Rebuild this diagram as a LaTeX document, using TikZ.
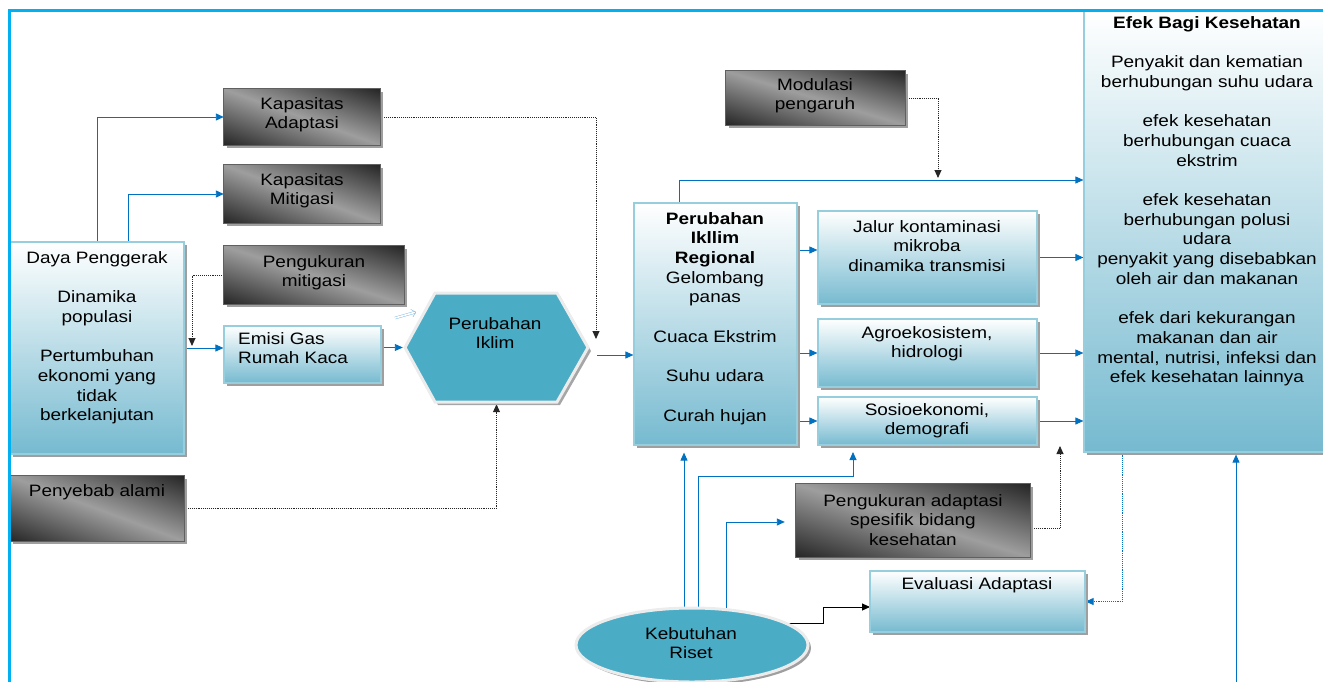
\documentclass[tikz,border=0pt]{standalone}
\usepackage{fontspec}
\setmainfont{Liberation Sans}[FakeStretch=1.15]
\usetikzlibrary{arrows.meta,shadows,shapes.geometric}
\pgfdeclarelayer{back}
\pgfsetlayers{back,main}

\definecolor{frameblue}{RGB}{0,176,240}
\definecolor{linkblue}{RGB}{0,112,192}
\definecolor{boxlo}{RGB}{118,186,208}
\definecolor{boxedge}{RGB}{150,206,222}
\definecolor{tealfill}{RGB}{75,172,198}
\definecolor{darkgr}{RGB}{38,38,38}
\definecolor{lightgr}{RGB}{158,158,158}

% box from corner (x1,y1) to corner (x2,y2)
\newcommand\mkbox[6]{\node[#2, inner sep=0pt, minimum width={#5-#3}, minimum height={#6-#4}] (#1) at ({(#3+#5)/2},{(#4+#6)/2}) {};}

% grey box whose gradient runs across its diagonal: dark corners at
% bottom left and top right, light band from top left to bottom right
\newcommand\mkdark[5]{%
  \mkbox{#1}{boxshadow, fill=lightgr}{#2}{#3}{#4}{#5}
  \pgfmathsetmacro\dw{#4-#2}%
  \pgfmathsetmacro\dh{#5-#3}%
  \pgfmathsetmacro\dL{veclen(\dw,\dh)}%
  \pgfmathsetmacro\dE{\dw/\dL*\dh}%
  \pgfmathsetmacro\dA{atan2(\dw,\dh)}%
  \begin{scope}
    \clip (#1.south west) rectangle (#1.north east);
    \shade[transform canvas={rotate around={\dA:(#1.center)}}, left color=darkgr, right color=darkgr, middle color=lightgr]
      ([xshift={-\dE pt}, yshift={-0.5*\dL pt}]#1.center) rectangle ([xshift={\dE pt}, yshift={0.5*\dL pt}]#1.center);
  \end{scope}
  \draw[draw=gray!75!black, line width=1pt] (#1.south west) rectangle (#1.north east);
}

\begin{document}
\begin{tikzpicture}[x=1pt,y=-1pt,
  font=\fontsize{16.5}{19.7}\selectfont,
  boxshadow/.style={general shadow={fill=gray!75, shadow xshift=3pt, shadow yshift=-3pt}},
  lightbox/.style={boxshadow, shade, top color=white, bottom color=boxlo, draw=boxedge, line width=1.2pt},
  txt/.style={align=center, inner sep=0pt, anchor=north},
  tip/.style={-{Triangle[length=8pt,width=7pt]}},
  link/.style={tip, draw=linkblue, line width=0.9pt},
  dots/.style={tip, draw=black!85, densely dotted, line width=0.9pt},
  bdots/.style={tip, draw=linkblue, densely dotted, line width=0.9pt},
  blk/.style={tip, draw=black, line width=0.9pt},
]
\useasboundingbox (0,0) rectangle (1323,681);
\clip (0,0) rectangle (1323,681);

% ---- boxes ----
\mkdark{kapad}{224}{89}{380}{145}
\mkdark{kapmit}{224}{165}{380}{223}
\mkbox{daya}{lightbox}{10}{242}{184}{454}
\mkdark{pmit}{224}{246}{404}{304}
\mkbox{emisi}{lightbox}{224}{326}{381}{383}
\mkdark{alami}{10}{476}{184}{541}
\mkbox{regional}{lightbox}{634}{203}{797}{445}
\mkbox{jalur}{lightbox}{818}{211}{1037}{304}
\mkbox{agro}{lightbox}{818}{319}{1037}{387}
\mkbox{sosio}{lightbox}{818}{397}{1037}{445}
\mkdark{modul}{726}{71}{905}{125}
\mkbox{efek}{lightbox}{1084}{11}{1335}{452}
\mkdark{padapt}{796}{484}{1030}{557}
\mkbox{evalu}{lightbox}{870}{571}{1085}{632}

% climate change hexagon
\fill[gray!70] (408,351) -- (438,296) -- (560,296) -- (591,351) -- (560,405) -- (438,405) -- cycle;
\draw[draw=gray!15, line width=3pt, fill=tealfill] (405,347.5) -- (435,293) -- (557,293) -- (588,347.5) -- (557,402) -- (435,402) -- cycle;
\node[inner sep=0pt, minimum width=183, minimum height=109] (hex) at (496.5,347.5) {};

% research needs ellipse
\node[ellipse, boxshadow, fill=tealfill, draw=gray!15, line width=3pt, minimum width=232, minimum height=74] (riset) at (692,645) {};

% ---- texts ----
\node[txt] (kapad-t) at (302,97) {Kapasitas\\Adaptasi};
\node[txt] (kapmit-t) at (302,173) {Kapasitas\\Mitigasi};
\node[txt] (daya-t) at (97,251) {Daya Penggerak\\[19.7pt]Dinamika\\populasi\\[19.7pt]Pertumbuhan\\ekonomi yang\\tidak\\berkelanjutan};
\node[txt] (pmit-t) at (314,255) {Pengukuran\\mitigasi};
\node[txt, anchor=north west, align=left] (emisi-t) at (238,332) {Emisi Gas\\Rumah Kaca};
\node[txt] (alami-t) at (97,484) {Penyebab alami};
\node[txt] (hex-t) at (495,317) {Perubahan\\Iklim};
\node[txt] (regional-t) at (715,212) {\textbf{Perubahan}\\\textbf{Ikllim}\\\textbf{Regional}\\Gelombang\\panas\\[19.7pt]Cuaca Ekstrim\\[19.7pt]Suhu udara\\[19.7pt]Curah hujan};
\node[txt] (modul-t) at (815,78) {Modulasi\\pengaruh};
\node[txt] (jalur-t) at (927,220) {Jalur kontaminasi\\mikroba\\dinamika transmisi};
\node[txt] (agro-t) at (927,326) {Agroekosistem,\\hidrologi};
\node[txt] (sosio-t) at (927,403) {Sosioekonomi,\\demografi};
\node[txt] (padapt-t) at (913,494) {Pengukuran adaptasi\\spesifik bidang\\kesehatan};
\node[txt] (evalu-t) at (977,577) {Evaluasi Adaptasi};
\node[txt] (riset-t) at (691,627) {Kebutuhan\\Riset};
\node[txt] (efek-t) at (1207,16) {\textbf{Efek Bagi Kesehatan}\\[19.7pt]Penyakit dan kematian\\berhubungan suhu udara\\[19.7pt]efek kesehatan\\berhubungan cuaca\\ekstrim\\[19.7pt]efek kesehatan\\berhubungan polusi\\udara\\penyakit yang disebabkan\\oleh air dan makanan\\[19.7pt]efek dari kekurangan\\makanan dan air\\mental, nutrisi, infeksi dan\\efek kesehatan lainnya};

% ---- helper points for connector routes ----
\coordinate (pmtip) at (192,346);
\coordinate (katip) at (596,339);
\coordinate (fa1) at (395,318);
\coordinate (fa2) at (416,312);
\coordinate (hexout) at (588,355);
\coordinate (rowA) at (0,180);
\coordinate (modtip) at (938,178);
\coordinate (r1) at (0,250);
\coordinate (r18) at (0,528);
\coordinate (sotip) at (1060,446);
\coordinate (v19) at (684,0);
\coordinate (k20) at (698,476);
\coordinate (sstip) at (853,452);
\coordinate (k21) at (726,522);
\coordinate (k22) at (823,623);
\coordinate (evtip) at (870,607);
\coordinate (b24) at (1236,700);

% ---- connectors ----
\begin{pgfonlayer}{back}
\draw[link] ([xshift=88pt]daya.north west) |- (kapad.west);
\draw[link] ([xshift=119pt]daya.north west) |- (kapmit.west);
\draw[link] (daya.east) -- (daya.east -| emisi.west);
\draw[dots] (pmit.west) -| (pmtip);
\draw[link, shorten >=2pt] (emisi.east |- hex.west) -- (hex.west);
\draw[linkblue!45, line width=0.5pt, double distance=1.6pt, -{Straight Barb[length=4pt]}] (fa1) -- (fa2);
\draw[dots] (kapad.east) -| (katip);
\draw[link, shorten <=9pt] (hexout) -- (hexout -| regional.west);
\draw[dots, shorten >=2pt] (alami.east) -| (hex.south);
\draw[link] ([xshift=46pt]regional.north west) |- (rowA -| efek.west);
\draw[dots] (modul.east) -| (modtip);
\draw[link] (r1 -| regional.east) -- (r1 -| jalur.west);
\draw[link] (jalur.east) -- (jalur.east -| efek.west);
\draw[link] (agro.west -| regional.east) -- (agro.west);
\draw[link] (agro.east) -- (agro.east -| efek.west);
\draw[link] (sosio.west -| regional.east) -- (sosio.west);
\draw[link] (sosio.east) -- (sosio.east -| efek.west);
\draw[dots] (r18 -| padapt.east) -| (sotip);
\draw[link, shorten >=7pt] (v19 |- riset.center) -- (v19 |- regional.south);
\draw[link] (k20 |- riset.center) -- (k20) -| (sstip);
\draw[link, shorten >=11pt] (k21 |- riset.center) -- (k21) -- (k21 -| padapt.west);
\draw[blk] (riset.center |- k22) -- (k22) |- (evtip);
\draw[bdots] ([xshift=39pt]efek.south west) |- (evalu.east);
\draw[link, shorten >=2pt] (b24) -- (b24 |- efek.south);
\end{pgfonlayer}

% outer frame
\draw[frameblue, line width=3pt] (9.5,700) -- (9.5,10.5) -- (1340,10.5);
\end{tikzpicture}
\end{document}
